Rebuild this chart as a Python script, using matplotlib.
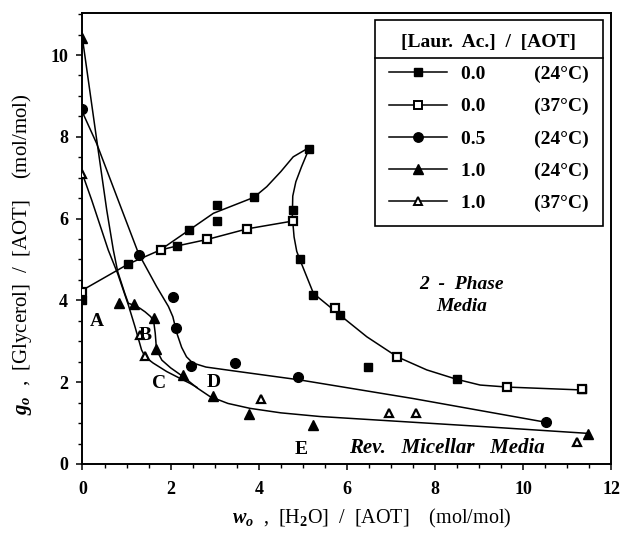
import numpy as np
import matplotlib
matplotlib.use("Agg")
from matplotlib import pyplot as plt
from matplotlib.lines import Line2D
from matplotlib.ticker import MultipleLocator

plt.rcParams['font.family'] = ['Liberation Serif', 'DejaVu Serif']
plt.rcParams['font.weight'] = 'bold'
plt.rcParams['mathtext.fontset'] = 'custom'
plt.rcParams['mathtext.rm'] = 'Liberation Serif:bold'
plt.rcParams['mathtext.it'] = 'Liberation Serif:italic:bold'
plt.rcParams['mathtext.bf'] = 'Liberation Serif:bold'

sq24_w = [0.0, 1.04, 2.14, 2.42, 3.06, 3.06, 3.89, 5.14, 4.77, 4.93, 5.24, 5.84, 6.48, 8.49, 11.32]
sq24_g = [4.0, 4.89, 5.33, 5.72, 6.33, 5.94, 6.52, 7.71, 6.21, 5.00, 4.13, 3.64, 2.38, 2.07, 1.83]
sq37_w = [0.0, 1.78, 2.83, 3.74, 4.77, 5.73, 7.14, 9.64, 11.32]
sq37_g = [4.2, 5.23, 5.49, 5.75, 5.94, 3.81, 2.62, 1.88, 1.83]
ci24_w = [0.0, 1.29, 2.05, 2.12, 2.46, 3.46, 4.88, 10.51]
ci24_g = [8.68, 5.10, 4.08, 3.32, 2.40, 2.48, 2.12, 1.02]
tr24_w = [0.0, 0.83, 1.17, 1.63, 1.67, 2.29, 2.95, 3.77, 5.22, 11.46]
tr24_g = [10.41, 3.94, 3.91, 3.56, 2.81, 2.17, 1.67, 1.23, 0.96, 0.74]
tr37_w = [0.0, 1.30, 1.41, 4.05, 6.95, 7.56, 11.22]
tr37_g = [7.09, 3.15, 2.63, 1.58, 1.24, 1.24, 0.53]

# hand-drawn guide curves
c_sq24_w = [1.76, 2.42, 2.97, 3.89, 4.18, 4.50, 4.78, 5.05, 5.14, 4.97, 4.84, 4.77, 4.76, 4.80,
            4.86, 4.93, 5.24, 5.84, 6.45, 7.14, 7.81, 8.49, 9.02, 9.64, 11.32]
c_sq24_g = [5.23, 5.72, 6.13, 6.52, 6.78, 7.15, 7.51, 7.68, 7.71, 7.27, 6.90, 6.55, 6.05, 5.55,
            5.20, 5.00, 4.17, 3.64, 3.11, 2.62, 2.30, 2.07, 1.93, 1.88, 1.81]
c_sq37_w = [0.0, 1.04, 1.76, 2.14, 2.83, 3.74, 4.77]
c_sq37_g = [4.25, 4.89, 5.23, 5.33, 5.49, 5.75, 5.94]
c_ci24_w = [0.0, 0.32, 0.81, 1.27, 1.68, 1.95, 2.05, 2.14, 2.25, 2.36, 2.50, 2.80, 3.40, 4.90, 7.50, 10.51]
c_ci24_g = [8.60, 7.84, 6.45, 5.15, 4.34, 3.85, 3.60, 3.20, 2.85, 2.62, 2.47, 2.37, 2.28, 2.06, 1.60, 1.02]
c_tr24_w = [0.0, 0.30, 0.55, 0.70, 0.80, 0.96, 1.04, 1.17, 1.30, 1.42, 1.55, 1.62, 1.65, 1.68,
            1.80, 2.00, 2.29, 2.60, 2.89, 3.30, 3.80, 4.50, 5.39, 7.20, 9.00, 11.44]
c_tr24_g = [10.40, 8.10, 6.21, 5.23, 4.70, 4.17, 3.93, 3.88, 3.81, 3.72, 3.60, 3.45, 3.20, 2.79,
            2.54, 2.35, 2.13, 1.86, 1.65, 1.48, 1.36, 1.25, 1.16, 1.04, 0.92, 0.75]
c_tr37_w = [0.0, 0.21, 0.585, 0.80, 1.04, 1.19, 1.34, 1.42, 1.60, 1.91, 2.20, 2.44, 2.60]
c_tr37_g = [7.09, 6.45, 5.23, 4.65, 3.89, 3.36, 2.79, 2.62, 2.47, 2.26, 2.10, 1.97, 1.87]

# path labels
lab_txt = ['A', 'B', 'C', 'D', 'E']
lab_w = [0.32, 1.42, 1.74, 2.97, 4.97]
lab_g = [3.48, 3.15, 1.96, 1.99, 0.36]

fig = plt.figure(figsize=(6.22, 5.37), dpi=100)
ax = fig.add_axes([0.1326, 0.136, 0.8505, 0.840])

lw = 1.1
for cw, cg in [(c_sq24_w, c_sq24_g), (c_sq37_w, c_sq37_g), (c_ci24_w, c_ci24_g),
               (c_tr24_w, c_tr24_g), (c_tr37_w, c_tr37_g)]:
    ax.plot(cw, cg, color='black', lw=lw, zorder=2)

ax.plot(sq24_w, sq24_g, ls='none', marker='s', ms=6.4, mfc='black', mec='black', zorder=3)
ax.plot(sq37_w, sq37_g, ls='none', marker='s', ms=6.2, mfc='white', mec='black', mew=1.6, zorder=4)
ax.plot(ci24_w, ci24_g, ls='none', marker='o', ms=7.0, mfc='black', mec='black', zorder=3)
ax.plot(tr24_w, tr24_g, ls='none', marker='^', ms=6.8, mfc='black', mec='black', zorder=3)
ax.plot(tr37_w, tr37_g, ls='none', marker='^', ms=6.0, mfc='white', mec='black', mew=1.6, zorder=4)

for t, w, g in zip(lab_txt, lab_w, lab_g):
    ax.text(w, g, t, fontsize=14, fontweight='bold', ha='center', va='center', zorder=5)

ax.text(8.6, 4.40, "2  -  Phase", fontsize=14, style='italic', fontweight='bold', ha='center', va='center')
ax.text(8.6, 3.85, "Media", fontsize=14, style='italic', fontweight='bold', ha='center', va='center')
ax.text(8.26, 0.38, "Rev.   Micellar   Media", fontsize=15, style='italic', fontweight='bold',
        ha='center', va='center')

ax.set_xlim(0, 12)
ax.set_ylim(0, 11.03)
ax.xaxis.set_major_locator(MultipleLocator(2))
ax.xaxis.set_minor_locator(MultipleLocator(0.5))
ax.yaxis.set_major_locator(MultipleLocator(2))
ax.yaxis.set_minor_locator(MultipleLocator(0.5))
ax.tick_params(which='major', direction='out', length=4.5, width=1.1, labelsize=13)
ax.tick_params(which='minor', direction='out', length=3, width=1.0)
ax.tick_params(axis='x', pad=8)
ax.tick_params(axis='y', pad=6)
for s in ax.spines.values():
    s.set_linewidth(1.4)

ax.set_xlabel(r"$w_o$  ,  [H$_2$O]  /  [AOT]    (mol/mol)", fontsize=14.5)
ax.set_ylabel(r"$g_o$  ,  [Glycerol]  /  [AOT]    (mol/mol)", fontsize=15)
ax.xaxis.set_label_coords(0.547, -0.095)
ax.yaxis.set_label_coords(-0.092, 0.465)

# legend
temps = ["(24°C)", "(37°C)", "(24°C)", "(24°C)", "(37°C)"]
ratios = ["0.0", "0.0", "0.5", "1.0", "1.0"]
labels = [r + " " * 10 + t for r, t in zip(ratios, temps)]
handles = [
    Line2D([], [], color='black', lw=lw, marker='s', ms=6.0, mfc='black', mec='black'),
    Line2D([], [], color='black', lw=lw, marker='s', ms=5.2, mfc='white', mec='black', mew=1.4),
    Line2D([], [], color='black', lw=lw, marker='o', ms=6.8, mfc='black', mec='black'),
    Line2D([], [], color='black', lw=lw, marker='^', ms=6.5, mfc='black', mec='black'),
    Line2D([], [], color='black', lw=lw, marker='^', ms=5.2, mfc='white', mec='black', mew=1.4),
]
lsp = 0.75
leg = ax.legend(handles, labels, title="[Laur.  Ac.]  /  [AOT]", loc='upper right',
                bbox_to_anchor=(0.984, 0.9845), fontsize=14, title_fontsize=14,
                frameon=True, fancybox=False, edgecolor='black', framealpha=1,
                handlelength=3.0, handletextpad=0.72, labelspacing=lsp, borderpad=0.72,
                borderaxespad=0)
leg.get_frame().set_linewidth(1.2)
leg.get_title().set_fontweight('bold')

fig.canvas.draw()
lb = leg.get_window_extent()
tb = leg.get_title().get_window_extent()
ysep = tb.y0 - 0.5 * lsp * 14 * fig.dpi / 72
inv = fig.transFigure.inverted()
x0, y0 = inv.transform((lb.x0, ysep))
x1, _ = inv.transform((lb.x1, ysep))
fig.add_artist(Line2D([x0, x1], [y0, y0], color='black', lw=1.2, zorder=10))

fig.savefig("out.png", dpi=100)
